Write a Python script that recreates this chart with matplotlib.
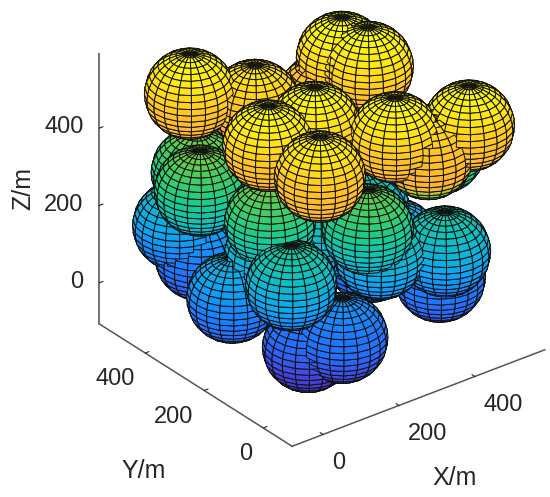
import numpy as np
import matplotlib
matplotlib.use('Agg')
from matplotlib import pyplot as plt
from matplotlib.colors import LinearSegmentedColormap, Normalize
from mpl_toolkits.mplot3d.art3d import Poly3DCollection

plt.rcParams['font.family'] = ['Liberation Sans', 'DejaVu Sans']

# sphere centres (metres)
sx = [87, 205, 422, 439, 380, 206, 81, 311, 463, 372, 106,
      125, 83, 116, 88, 268, 121, 304, 438, 527, 419, 257,
      97, 126, 39, 176, 136, 455, 392, 446]
sy = [465, 396, 381, 315, 394, 195, 192, 58, 3, 25, 49,
      491, 426, 231, 123, 95, 238, 101, 52, 184, 300, 243,
      518, 481, 260, 63, 128, 91, 246, 232]
sz = [470, 430, 480, 480, 380, 470, 470, 470, 470, 420, 450,
      240, 240, 240, 140, 230, 150, 150, 130, 300, 120, 150,
      100, 30, 60, 0, -40, 40, 40, 60]
radius = 95
radius_z = 103

# colour table, parula look
cmap_z = [-130, -50, 0, 60, 130, 200, 260, 320, 360, 385, 470, 520, 575]
cmap_rgb = [(0.28, 0.16, 0.75), (0.25, 0.30, 0.90), (0.15, 0.42, 0.98),
            (0.10, 0.50, 1.00), (0.05, 0.65, 0.95), (0.05, 0.75, 0.75),
            (0.10, 0.80, 0.55), (0.30, 0.80, 0.35), (0.60, 0.80, 0.20),
            (1.00, 0.70, 0.20), (1.00, 0.76, 0.14), (1.00, 0.88, 0.08),
            (0.98, 0.98, 0.05)]

norm = Normalize(cmap_z[0], cmap_z[-1])
cmap = LinearSegmentedColormap.from_list(
    'par', [(norm(z), c) for z, c in zip(cmap_z, cmap_rgb)])

elev = 29.5
azim = -127.8
cam = np.array([np.cos(np.radians(elev))*np.cos(np.radians(azim)),
                np.cos(np.radians(elev))*np.sin(np.radians(azim)),
                np.sin(np.radians(elev))])

# unit sphere mesh, like sphere(20)
th = np.linspace(-np.pi, np.pi, 21)
ph = np.linspace(-np.pi/2, np.pi/2, 21)
TH, PH = np.meshgrid(th, ph)
ux = np.cos(PH)*np.cos(TH)
uy = np.cos(PH)*np.sin(TH)
uz = np.sin(PH)

polys = []
zmean = []
for cx, cy, cz in zip(sx, sy, sz):
    X = cx + radius*ux
    Y = cy + radius*uy
    Z = cz + radius_z*uz
    for i in range(20):
        for j in range(20):
            n = np.array([ux[i:i+2, j:j+2].mean(), uy[i:i+2, j:j+2].mean(), uz[i:i+2, j:j+2].mean()])
            if n @ cam < -0.12:
                continue  # back side, hidden anyway
            q = [(X[i, j], Y[i, j], Z[i, j]), (X[i, j+1], Y[i, j+1], Z[i, j+1]),
                 (X[i+1, j+1], Y[i+1, j+1], Z[i+1, j+1]), (X[i+1, j], Y[i+1, j], Z[i+1, j])]
            polys.append(q)
            zmean.append(Z[i:i+2, j:j+2].mean())

fig = plt.figure(figsize=(5.5, 4.97), dpi=100)
ax = fig.add_axes([95.5/550, 68.5/497, 441/550, 441/497], projection='3d')
ax.set_proj_type('ortho')
ax.view_init(elev=elev, azim=azim)
ax.set_box_aspect((320, 315, 310), zoom=1.2)

pc = Poly3DCollection(polys, facecolors=cmap(norm(np.array(zmean))),
                      edgecolors='#101010', linewidths=0.7)
ax.add_collection3d(pc)

ax.set_xlim(-81.5, 584, view_margin=0)
ax.set_ylim(-98, 556, view_margin=0)
ax.set_zlim(-106, 591, view_margin=0)
ax.set_xticks([0, 200, 400])
ax.set_yticks([0, 200, 400])
ax.set_zticks([0, 200, 400])
ax.grid(False)

for a in (ax.xaxis, ax.yaxis, ax.zaxis):
    a.pane.set_visible(False)
    a.line.set_color('#555555')
    a.line.set_linewidth(1.1)
    a._axinfo['tick']['inward_factor'] = 0
    a._axinfo['tick']['outward_factor'] = 0.18
    a.set_rotate_label(False)
ax.zaxis.line.set_color('#777777')
ax.zaxis.line.set_linewidth(1.5)
ax.tick_params(axis='both', colors='#262626', labelsize=17)
ax.tick_params(axis='x', pad=-0.6)
ax.tick_params(axis='y', pad=-1.1)
ax.tick_params(axis='z', pad=-2.2)
ax.zaxis.set_ticks_position('upper')
plt.setp(ax.get_xticklabels(), ha='left')
plt.setp(ax.get_yticklabels(), ha='right')
plt.setp(ax.get_zticklabels(), ha='right', va='center')

# axis titles, placed by hand
fig.text(455/550, 1 - 478/497, 'X/m', fontsize=18, color='#262626', ha='center', va='center')
fig.text(144/550, 1 - 471/497, 'Y/m', fontsize=18, color='#262626', ha='center', va='center')
fig.text(23/550, 1 - 189/497, 'Z/m', fontsize=18, color='#262626', ha='center', va='center', rotation=90)

fig.savefig('out.png', dpi=100)
